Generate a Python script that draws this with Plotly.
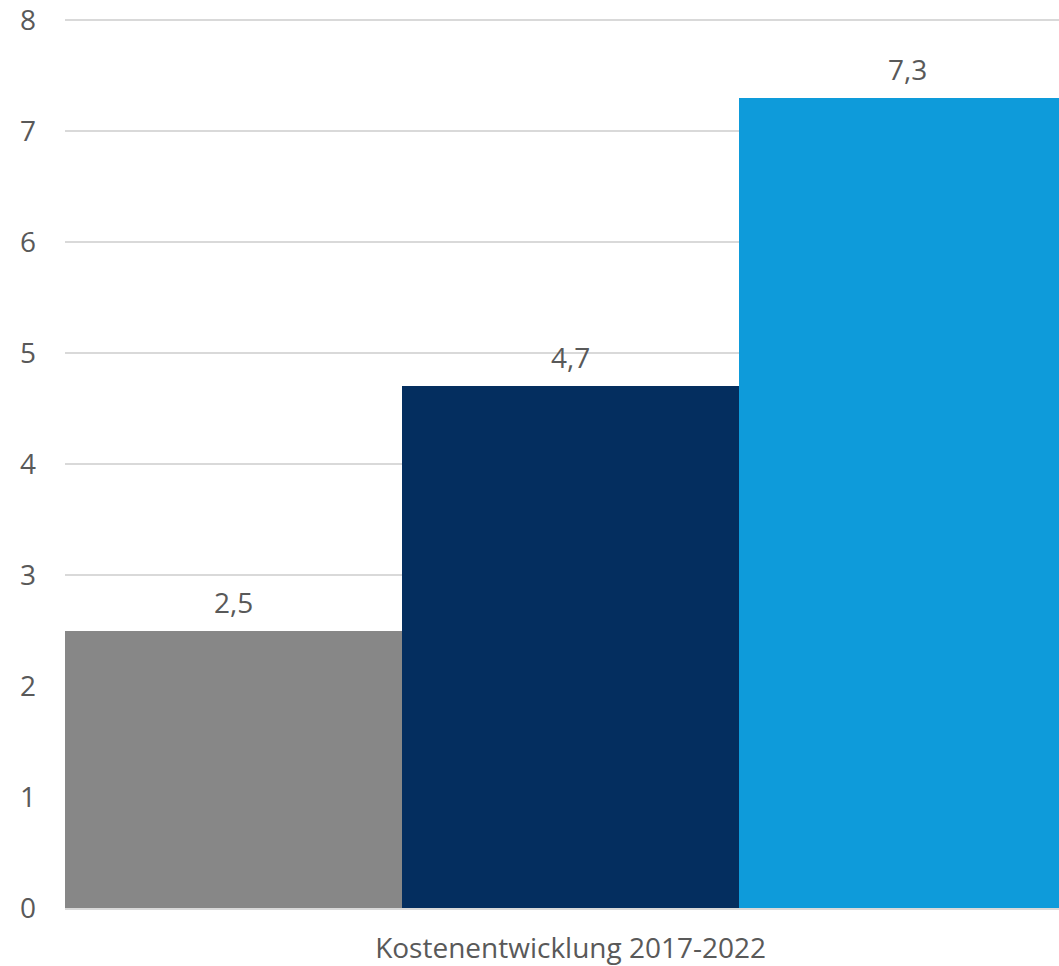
import plotly.graph_objects as go

category = ["Kostenentwicklung 2017-2022"]
series_names = ["Reihe 1", "Reihe 2", "Reihe 3"]
series_values = [[2.5], [4.7], [7.3]]
series_colors = ["#878787", "#042E5F", "#0E9BDA"]
y_ticks = [0, 1, 2, 3, 4, 5, 6, 7, 8]

FONT = "'Open Sans', sans-serif"
FS = 28

fig = go.Figure()
for name, vals, col in zip(series_names, series_values, series_colors):
    fig.add_trace(go.Bar(
        name=name, x=category, y=vals,
        marker=dict(color=col, line=dict(width=0)),
        hoverinfo="skip",
    ))
    fig.add_annotation(
        x=category[0], y=vals[0], xref="x", yref="y",
        text=f"{vals[0]:.1f}".replace(".", ","),
        showarrow=False, yanchor="bottom", yshift=8,
        xshift=(series_names.index(name) - 1) * 337,
        font=dict(family=FONT, size=FS, color="#595959"),
    )

fig.update_layout(
    width=1059, height=966,
    margin=dict(l=65, r=0, t=18, b=58, autoexpand=False),
    barmode="group", bargap=0, bargroupgap=0,
    showlegend=False,
    plot_bgcolor="white", paper_bgcolor="white",
    separators=",.",
    font=dict(family=FONT, size=FS, color="#595959"),
)
fig.update_yaxes(
    range=[0, 8.02], tickvals=y_ticks, showgrid=True,
    gridcolor="#D9D9D9", gridwidth=2, zeroline=False,
    showline=False, ticks="", ticklabelstandoff=28,
    ticklabeloverflow="allow", automargin=False,
    tickfont=dict(family=FONT, size=FS, color="#595959"),
)
fig.update_xaxes(
    range=[-0.5, 0.483], showline=True, linecolor="#D9D9D9", linewidth=2,
    ticks="", ticklabelstandoff=14, automargin=False,
    tickfont=dict(family=FONT, size=FS, color="#595959"),
)
fig.write_html(
    "out.html",
    config={"displayModeBar": False, "staticPlot": True},
    post_script="document.body.style.margin='0';document.body.style.overflow='hidden';",
)
